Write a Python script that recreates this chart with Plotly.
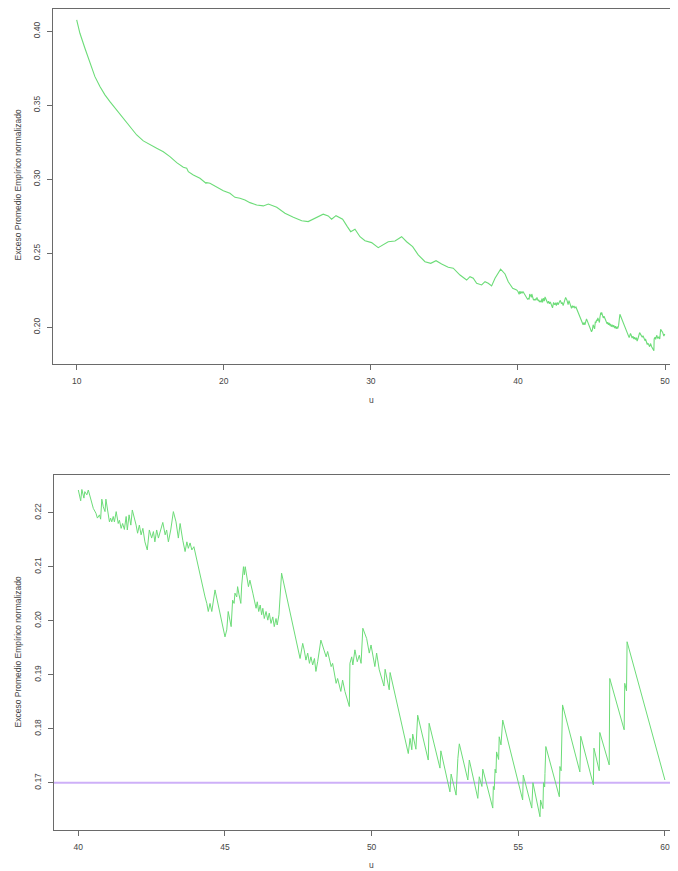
import plotly.graph_objects as go

# ---- Top panel: empirical normalized mean excess, u in [10, 40) ----
u_top = [10.00, 10.22, 10.56, 10.90, 11.24, 11.58, 11.92, 12.26, 12.72, 13.17,
         13.62, 14.08, 14.53, 14.98, 15.44, 15.89, 16.34, 16.80, 17.25, 17.48,
         17.59, 17.93, 18.38, 18.79, 18.84, 19.06, 19.52, 19.97, 20.42, 20.76,
         21.10, 21.44, 21.78, 22.24, 22.69, 23.03, 23.60, 24.16, 24.73, 25.30,
         25.74, 26.20, 26.76, 27.10, 27.33, 27.63, 28.08, 28.40, 28.63, 28.92,
         29.26, 29.60, 30.05, 30.50, 30.84, 31.18, 31.64, 32.09, 32.43, 32.84,
         33.22, 33.68, 34.07, 34.43, 34.81, 35.26, 35.60, 36.06, 36.51, 36.74,
         36.96, 37.19, 37.53, 37.76, 37.98, 38.21, 38.44, 38.66, 38.82, 39.12,
         39.34, 39.64, 39.91]
e_top = [0.4076, 0.3986, 0.3885, 0.3784, 0.3693, 0.3626, 0.3570, 0.3524, 0.3468, 0.3412,
         0.3355, 0.3299, 0.3259, 0.3232, 0.3209, 0.3186, 0.3153, 0.3112, 0.3081, 0.3074,
         0.3051, 0.3029, 0.3007, 0.2973, 0.2977, 0.2973, 0.2946, 0.2923, 0.2905, 0.2878,
         0.2872, 0.2860, 0.2842, 0.2826, 0.2820, 0.2833, 0.2811, 0.2770, 0.2743, 0.2720,
         0.2714, 0.2736, 0.2764, 0.2752, 0.2730, 0.2754, 0.2730, 0.2680, 0.2646, 0.2662,
         0.2612, 0.2585, 0.2572, 0.2538, 0.2556, 0.2578, 0.2583, 0.2612, 0.2578, 0.2545,
         0.2489, 0.2443, 0.2432, 0.2450, 0.2428, 0.2405, 0.2399, 0.2353, 0.2319, 0.2342,
         0.2331, 0.2297, 0.2286, 0.2308, 0.2297, 0.2279, 0.2331, 0.2369, 0.2392, 0.2360,
         0.2308, 0.2264, 0.2252]

# ---- Bottom panel: u in [40, 60] ----
u_bot = [40.00, 40.08, 40.12, 40.19, 40.22, 40.29, 40.34, 40.42, 40.51, 40.60,
         40.65, 40.72, 40.76, 40.80, 40.85, 40.91, 40.94, 41.06, 41.10, 41.14,
         41.19, 41.23, 41.29, 41.36, 41.40, 41.46, 41.51, 41.57, 41.63, 41.67,
         41.73, 41.79, 41.84, 41.97, 42.02, 42.08, 42.14, 42.20, 42.27, 42.35,
         42.42, 42.50, 42.56, 42.61, 42.67, 42.73, 42.79, 42.88, 42.96, 43.01,
         43.07, 43.15, 43.24, 43.33, 43.41, 43.47, 43.56, 43.64, 43.70, 43.75,
         43.81, 43.87, 43.94, 44.01, 44.32, 44.38, 44.43, 44.49, 44.55, 44.66,
         45.00, 45.06, 45.11, 45.21, 45.26, 45.31, 45.34, 45.40, 45.43, 45.48,
         45.54, 45.57, 45.63, 45.66, 45.69, 45.80, 45.85, 45.95, 46.06, 46.10,
         46.15, 46.20, 46.25, 46.29, 46.34, 46.40, 46.46, 46.51, 46.57, 46.63,
         46.68, 46.74, 46.78, 46.84, 46.88, 46.93, 47.56, 47.62, 47.65, 47.70,
         47.76, 47.82, 47.88, 47.93, 47.99, 48.05, 48.10, 48.16, 48.22, 48.27,
         48.45, 48.50, 48.62, 48.67, 48.79, 48.84, 48.95, 49.01, 49.09, 49.17,
         49.24, 49.26, 49.32, 49.36, 49.43, 49.51, 49.58, 49.64, 49.70, 49.83,
         49.92, 49.98, 50.11, 50.17, 50.26, 50.42, 50.46, 50.60, 50.63, 51.25,
         51.31, 51.37, 51.40, 51.51, 51.57, 51.93, 51.96, 52.33, 52.36, 52.67,
         52.71, 52.88, 52.90, 52.94, 52.99, 53.28, 53.33, 53.62, 53.67, 53.76,
         53.79, 54.13, 54.15, 54.18, 54.21, 54.24, 54.26, 54.33, 54.35, 54.41,
         54.47, 55.15, 55.17, 55.46, 55.50, 55.74, 55.76, 55.84, 55.86, 55.90,
         55.91, 55.94, 56.40, 56.42, 56.46, 56.48, 56.51, 57.10, 57.13, 57.56,
         57.58, 57.76, 57.78, 58.10, 58.12, 58.61, 58.63, 58.69, 58.71, 60.00]
e_bot = [0.2242, 0.2222, 0.2243, 0.2227, 0.2239, 0.2233, 0.2242, 0.2227, 0.2208, 0.2199,
         0.2190, 0.2196, 0.2188, 0.2225, 0.2211, 0.2202, 0.2225, 0.2183, 0.2190, 0.2183,
         0.2193, 0.2183, 0.2202, 0.2180, 0.2186, 0.2171, 0.2180, 0.2169, 0.2193, 0.2168,
         0.2196, 0.2177, 0.2205, 0.2177, 0.2162, 0.2177, 0.2159, 0.2171, 0.2146, 0.2131,
         0.2168, 0.2153, 0.2165, 0.2146, 0.2168, 0.2153, 0.2165, 0.2182, 0.2159, 0.2168,
         0.2146, 0.2168, 0.2202, 0.2183, 0.2153, 0.2180, 0.2149, 0.2128, 0.2146, 0.2134,
         0.2144, 0.2131, 0.2137, 0.2119, 0.2044, 0.2032, 0.2017, 0.2032, 0.2017, 0.2057,
         0.1970, 0.1983, 0.2017, 0.1989, 0.2038, 0.2032, 0.2051, 0.2044, 0.2063, 0.2048,
         0.2032, 0.2066, 0.2100, 0.2085, 0.2100, 0.2063, 0.2075, 0.2051, 0.2023, 0.2035,
         0.2017, 0.2029, 0.2011, 0.2023, 0.2004, 0.2017, 0.2001, 0.2014, 0.1995, 0.2007,
         0.1989, 0.2004, 0.1992, 0.2011, 0.2048, 0.2088, 0.1930, 0.1946, 0.1958, 0.1946,
         0.1927, 0.1940, 0.1921, 0.1933, 0.1918, 0.1930, 0.1906, 0.1924, 0.1943, 0.1964,
         0.1933, 0.1943, 0.1915, 0.1921, 0.1884, 0.1893, 0.1869, 0.1890, 0.1869, 0.1856,
         0.1841, 0.1921, 0.1933, 0.1918, 0.1946, 0.1924, 0.1936, 0.1921, 0.1986, 0.1967,
         0.1940, 0.1955, 0.1915, 0.1940, 0.1909, 0.1879, 0.1910, 0.1872, 0.1904, 0.1754,
         0.1782, 0.1761, 0.1790, 0.1762, 0.1825, 0.1742, 0.1810, 0.1727, 0.1759, 0.1683,
         0.1716, 0.1677, 0.1711, 0.1745, 0.1772, 0.1705, 0.1742, 0.1671, 0.1711, 0.1693,
         0.1725, 0.1653, 0.1693, 0.1687, 0.1725, 0.1718, 0.1757, 0.1743, 0.1785, 0.1770,
         0.1816, 0.1668, 0.1714, 0.1653, 0.1700, 0.1637, 0.1668, 0.1652, 0.1700, 0.1692,
         0.1717, 0.1767, 0.1674, 0.1730, 0.1722, 0.1785, 0.1844, 0.1720, 0.1786, 0.1696,
         0.1764, 0.1722, 0.1793, 0.1733, 0.1893, 0.1798, 0.1884, 0.1870, 0.1961, 0.1705]

ref_level = 0.17

top_x_ticks = [10, 20, 30, 40, 50]
top_y_ticks = [0.20, 0.25, 0.30, 0.35, 0.40]
bot_x_ticks = [40, 45, 50, 55, 60]
bot_y_ticks = [0.17, 0.18, 0.19, 0.20, 0.21, 0.22]
y_title = "Exceso Promedio Empírico normalizado"
x_title = "u"

# top panel uses the 10-40 part plus the bottom data up to 50
top_u = u_top + [u for u in u_bot if u <= 50]
top_e = e_top + [e for u, e in zip(u_bot, e_bot) if u <= 50]

# page body has an 8px margin, so the figure is offset by 8px in the window
OFF = 8
W, H = 678 - OFF, 871 - OFF
GREEN = "rgb(108,220,120)"
AX = "#6a6a6a"
TXT = "#454545"
FONT = "Liberation Sans, Arial, Helvetica, sans-serif"


def px_x(p):
    return min(1.0, max(0.0, (p - OFF) / W))


def px_y(p):
    return min(1.0, max(0.0, 1 - (p - OFF) / H))


fig = go.Figure()
fig.add_trace(go.Scatter(x=top_u, y=top_e, mode="lines",
                         line=dict(color=GREEN, width=1.1), xaxis="x", yaxis="y",
                         showlegend=False, hoverinfo="skip"))
fig.add_trace(go.Scatter(x=u_bot, y=e_bot, mode="lines",
                         line=dict(color=GREEN, width=1.0), xaxis="x2", yaxis="y2",
                         showlegend=False, hoverinfo="skip"))

common = dict(showgrid=False, zeroline=False, showline=True, linecolor=AX, linewidth=1,
              ticks="outside", ticklen=5, tickcolor=AX, tickwidth=1,
              tickfont=dict(family=FONT, size=8.5, color=TXT))

fig.update_layout(
    width=W, height=H, margin=dict(l=0, r=0, t=0, b=0),
    paper_bgcolor="white", plot_bgcolor="white",
    xaxis=dict(domain=[px_x(53), 1], range=[8.39, 50.88], anchor="y",
               tickvals=top_x_ticks, ticktext=[str(v) for v in top_x_ticks],
               mirror=True, ticklabelstandoff=4, **common),
    yaxis=dict(domain=[px_y(364), px_y(9)], range=[0.1752, 0.4150], anchor="x",
               tickvals=top_y_ticks, ticktext=[f"{v:.2f}" for v in top_y_ticks],
               tickangle=-90, ticklabelstandoff=4, **common),
    xaxis2=dict(domain=[px_x(54), 1], range=[39.17, 60.446], anchor="y2",
                tickvals=bot_x_ticks, ticktext=[str(v) for v in bot_x_ticks],
                mirror=True, ticklabelstandoff=4, **common),
    yaxis2=dict(domain=[px_y(830), px_y(475)], range=[0.16124, 0.22698], anchor="x2",
                tickvals=bot_y_ticks, ticktext=[f"{v:.2f}" for v in bot_y_ticks],
                tickangle=-90, ticklabelstandoff=4, **common),
)

fig.add_shape(type="line", xref="x2 domain", yref="y2", x0=0, x1=1,
              y0=ref_level, y1=ref_level,
              line=dict(color="rgb(206,176,248)", width=2), layer="below")

ann_font = dict(family=FONT, size=8.5, color=TXT)
for yc in [(7 + 364) / 2, (475 + 830) / 2]:
    fig.add_annotation(text=y_title, xref="paper", yref="paper",
                       x=px_x(17), y=px_y(yc), textangle=-90, showarrow=False,
                       xanchor="center", yanchor="middle", font=ann_font)
for yc in [400, 865]:
    fig.add_annotation(text=x_title, xref="paper", yref="paper",
                       x=px_x(371), y=px_y(yc), showarrow=False,
                       xanchor="center", yanchor="middle", font=ann_font)

fig.write_html("out.html")
